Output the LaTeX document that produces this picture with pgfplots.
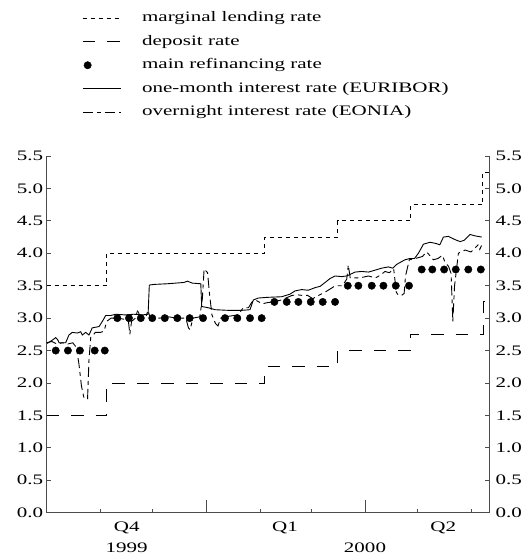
\documentclass[border=0pt]{standalone}
\usepackage{fontspec}
\setmainfont{Liberation Serif}[FakeStretch=1.45]
\usepackage{pgfplots}
\pgfplotsset{compat=1.18}

\newcommand\lab{\fontsize{14.5}{17}\selectfont}

% x values: days since 1 October 1999
\begin{document}
\begin{tikzpicture}
\pgfplotsset{
  base/.style={
    scale only axis, width=442.3pt, height=356.7pt,
    xmin=0, xmax=254.3, ymin=0, ymax=5.5,
    ytick={0,0.5,1,1.5,2,2.5,3,3.5,4,4.5,5,5.5},
    tick align=inside, major tick length=4pt,
    tick label style={font=\lab},
    /pgf/number format/fixed, /pgf/number format/fixed zerofill,
    /pgf/number format/precision=1, /pgf/number format/assume math mode=true,
    axis line style={black!70, line width=0.9pt},
    tick style={black!70, line width=0.9pt},
  },
}
\begin{axis}[base, at={(46.7pt,43.3pt)}, anchor=south west,
  clip mode=individual,
  axis x line*=bottom, axis y line*=left,
  xtick={31,61,123,152,213,244}, xticklabels={},
  extra x ticks={0,92,183}, extra x tick labels={},
  extra x tick style={major tick length=13pt},
  legend cell align=left,
  legend image code/.code={\draw[#1] (0pt,0pt) -- (38pt,0pt);},
  legend style={draw=none, fill=none, inner sep=0pt, font=\lab,
    at={(0.0798,1.412)}, anchor=north west, row sep=5.5pt, column sep=19pt,
    nodes={text height=10.5pt, text depth=3.5pt, inner sep=2pt}},
]
\addplot[black, line width=0.9pt, dash pattern=on 4pt off 4pt, const plot] coordinates {
(0,3.5)(34.5,4.0)(125.3,4.25)(167.3,4.5)(209.3,4.75)(250.7,5.25)(254.3,5.25)};
\addlegendentry{marginal lending rate}
\addplot[black, line width=0.9pt, dash pattern=on 12.5pt off 12pt, const plot] coordinates {
(0,1.5)(34.5,2.0)(125.3,2.25)(167.3,2.5)(209.3,2.75)(251.3,3.25)(254.3,3.25)};
\addlegendentry{deposit rate}
\addplot[only marks, mark=*, mark size=3.7pt, black,
  legend image code/.code={\fill (5pt,0pt) circle (3.7pt);}] coordinates {
(5.2,2.5)(12.2,2.5)(19.1,2.5)(27.6,2.5)(33.4,2.5)
(40.6,3)(47.3,3)(54.1,3)(60.7,3)(67.9,3)(75.1,3)(82.2,3)(89.9,3)
(102.5,3)(109.6,3)(116.9,3)(123.6,3)
(130.9,3.25)(138,3.25)(144.7,3.25)(151.8,3.25)(158.7,3.25)(165.8,3.25)
(173.1,3.5)(179.2,3.5)(186.9,3.5)(193.6,3.5)(200.7,3.5)(208.3,3.5)
(215.6,3.75)(221.7,3.75)(228.5,3.75)(235.2,3.75)(242.4,3.75)(249.6,3.75)};
\addlegendentry{main refinancing rate}
\addplot[black, line width=0.9pt] coordinates {
(0.3,2.61)(3.2,2.66)(5.2,2.70)(6.5,2.66)(7.1,2.62)(10.9,2.62)(12.8,2.74)(14.7,2.78)
(17.6,2.77)(19.5,2.79)(20.5,2.74)(22.4,2.78)(24.3,2.74)(26.2,2.85)(30.1,2.87)(32,2.95)
(33.9,3.04)(36.8,3.04)(39.7,3.06)(45,3.05)(50,3.06)(55,3.05)(58.3,3.06)(59,3.51)
(61.7,3.52)(69.4,3.53)(78.9,3.55)(80.9,3.57)(83.7,3.54)(88.6,3.53)(89.1,3.18)
(92.9,3.16)(96.8,3.13)(104.4,3.12)(112.1,3.12)(116.9,3.13)(118.8,3.28)(121.7,3.31)
(126.5,3.32)(135.1,3.33)(139.9,3.37)(142.8,3.42)(146.6,3.44)(150.4,3.43)(154.3,3.47)
(157.2,3.49)(159.1,3.53)(162.9,3.61)(165.8,3.65)(169.6,3.64)(172.5,3.65)(177.3,3.71)
(181.1,3.72)(185,3.71)(188.8,3.74)(192.6,3.77)(196.4,3.79)(199,3.77)(201.3,3.83)
(206,3.9)(208.9,3.92)(211.5,3.92)(213.7,4.0)(216.6,4.14)(220.4,4.17)(224,4.15)
(226,4.13)(228.1,4.25)(231,4.26)(234.8,4.21)(237.7,4.18)(240,4.2)(243.4,4.29)
(246,4.27)(250.1,4.25)};
\addlegendentry{one-month interest rate (EURIBOR)}
\addplot[black, line width=0.9pt, dash pattern=on 10pt off 4pt on 4pt off 4pt] coordinates {
(0,2.62)(3,2.64)(6,2.6)(9,2.62)(12,2.6)(15,2.62)(17,2.55)(18.5,2.3)(20,1.95)(21.5,1.76)
(23.5,1.76)(24.3,2.35)(25.3,2.70)(28,2.78)(31,2.78)(33,2.80)(34.5,2.95)(37,3.0)(41,3.0)
(45,2.98)(47,2.95)(47.8,2.75)(48.8,2.95)(51,3.0)(52.5,3.14)(53.5,3.0)(57,3.02)(58.3,3.12)
(59.5,3.0)(65,3.0)(70,3.02)(75,3.0)(80,3.0)(81.5,2.85)(82.5,2.82)(84,3.0)(88,3.02)
(89.5,3.3)(90.5,3.76)(92.5,3.7)(93.5,3.4)(95,3.05)(97,2.92)(98.5,2.88)(100,3.0)(105,3.03)
(110,3.05)(113,3.16)(116,3.16)(118,3.25)(120,3.28)(124,3.22)(127,3.24)(130,3.25)
(135,3.28)(141,3.35)(144,3.36)(147,3.35)(150,3.35)(153,3.30)(157,3.36)(160,3.40)
(163,3.45)(166,3.5)(170,3.5)(172.5,3.6)(173.4,3.82)(174.5,3.62)(180,3.62)(185,3.65)
(189,3.62)(191.7,3.66)(194.5,3.72)(197,3.70)(199.5,3.76)(201,3.40)(202,3.36)(204,3.35)
(205.5,3.38)(206.3,3.65)(208.5,3.9)(212,3.92)(216,3.95)(218.5,4.02)(222.3,3.9)(225,3.92)
(227.5,3.97)(229,3.86)(231,3.8)(232.5,3.69)(233.5,2.95)(234.5,3.5)(236.7,4.0)(240.5,4.05)
(244,4.02)(248,4.13)(249,4.06)(250,4.12)};
\addlegendentry{overnight interest rate (EONIA)}
\node[font=\lab] at (axis cs:46,0) [yshift=-15.3pt] {Q4};
\node[font=\lab] at (axis cs:46,0) [yshift=-35.3pt] {1999};
\node[font=\lab] at (axis cs:137,0) [yshift=-15.3pt] {Q1};
\node[font=\lab] at (axis cs:183,0) [yshift=-35.3pt] {2000};
\node[font=\lab] at (axis cs:228,0) [yshift=-15.3pt] {Q2};
\end{axis}
\begin{axis}[base, at={(46.7pt,43.3pt)}, anchor=south west,
  axis x line=none, axis y line*=right,
  yticklabel style={xshift=3pt}]
\end{axis}
\pgfresetboundingbox
\useasboundingbox (0,0) rectangle (528pt,556pt);
\end{tikzpicture}
\end{document}
